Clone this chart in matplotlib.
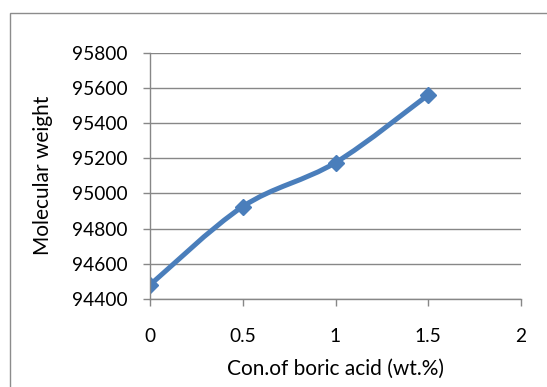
import matplotlib
matplotlib.use('Agg')
import matplotlib.pyplot as plt
import numpy as np
from matplotlib.path import Path
from matplotlib.patches import PathPatch, Rectangle

plt.rcParams['font.family'] = ['Lato', 'DejaVu Sans']

# data
boric_acid = [0, 0.5, 1, 1.5]
mol_weight = [94480, 94925, 95175, 95560]

x_ticks = [0, 0.5, 1, 1.5, 2]
x_tick_labels = ['0', '0.5', '1', '1.5', '2']
y_ticks = [94400, 94600, 94800, 95000, 95200, 95400, 95600, 95800]

line_color = '#4A7EBB'
grid_color = '#878787'


def smooth_path(xs, ys):
    # excel style smoothed line: catmull-rom segments as cubic beziers
    pts = np.column_stack([xs, ys]).astype(float)
    n = len(pts)
    verts = [pts[0]]
    codes = [Path.MOVETO]
    for i in range(n - 1):
        p0 = pts[i - 1] if i > 0 else pts[i]
        p1 = pts[i]
        p2 = pts[i + 1]
        p3 = pts[i + 2] if i + 2 < n else pts[i + 1]
        c1 = p1 + (p2 - p0) / 6.0
        c2 = p2 - (p3 - p1) / 6.0
        verts += [c1, c2, p2]
        codes += [Path.CURVE4] * 3
    return Path(verts, codes)


fig = plt.figure(figsize=(5.47, 3.87), dpi=100)
ax = fig.add_axes([150 / 547, 1 - 299 / 387, 371 / 547, 246.4 / 387])

# outer chart border (cut off on the right and bottom)
fig.patches.append(Rectangle((10 / 547, -0.1), 1.2, 1 - 13 / 387 + 0.1,
                             transform=fig.transFigure, fill=False,
                             edgecolor='#8c8c8c', lw=1.0))

ax.set_xlim(0, 2)
ax.set_ylim(94400, 95800)
ax.set_xticks(x_ticks)
ax.set_xticklabels(x_tick_labels)
ax.set_yticks(y_ticks)
ax.yaxis.grid(True, color=grid_color, lw=1.0)
ax.set_axisbelow(True)

for side in ['top', 'right']:
    ax.spines[side].set_visible(False)
for side in ['left', 'bottom']:
    ax.spines[side].set_color(grid_color)
    ax.spines[side].set_linewidth(1.0)

ax.tick_params(axis='both', colors=grid_color, labelcolor='black',
               labelsize=13.8, length=5, width=1.0, direction='out')
ax.tick_params(axis='y', pad=11)
ax.tick_params(axis='x', pad=16)

ax.add_patch(PathPatch(smooth_path(boric_acid, mol_weight), fill=False,
                       edgecolor=line_color, lw=3.6, capstyle='round',
                       joinstyle='round'))
ax.plot(boric_acid, mol_weight, linestyle='none', marker='D', markersize=8,
        color=line_color, markeredgecolor=line_color)

ax.set_xlabel('Con.of boric acid (wt.%)', fontsize=15, labelpad=10)
ax.set_ylabel('Molecular weight', fontsize=15)
ax.yaxis.set_label_coords(-0.262, 0.5)

fig.savefig('out.png', dpi=100)
